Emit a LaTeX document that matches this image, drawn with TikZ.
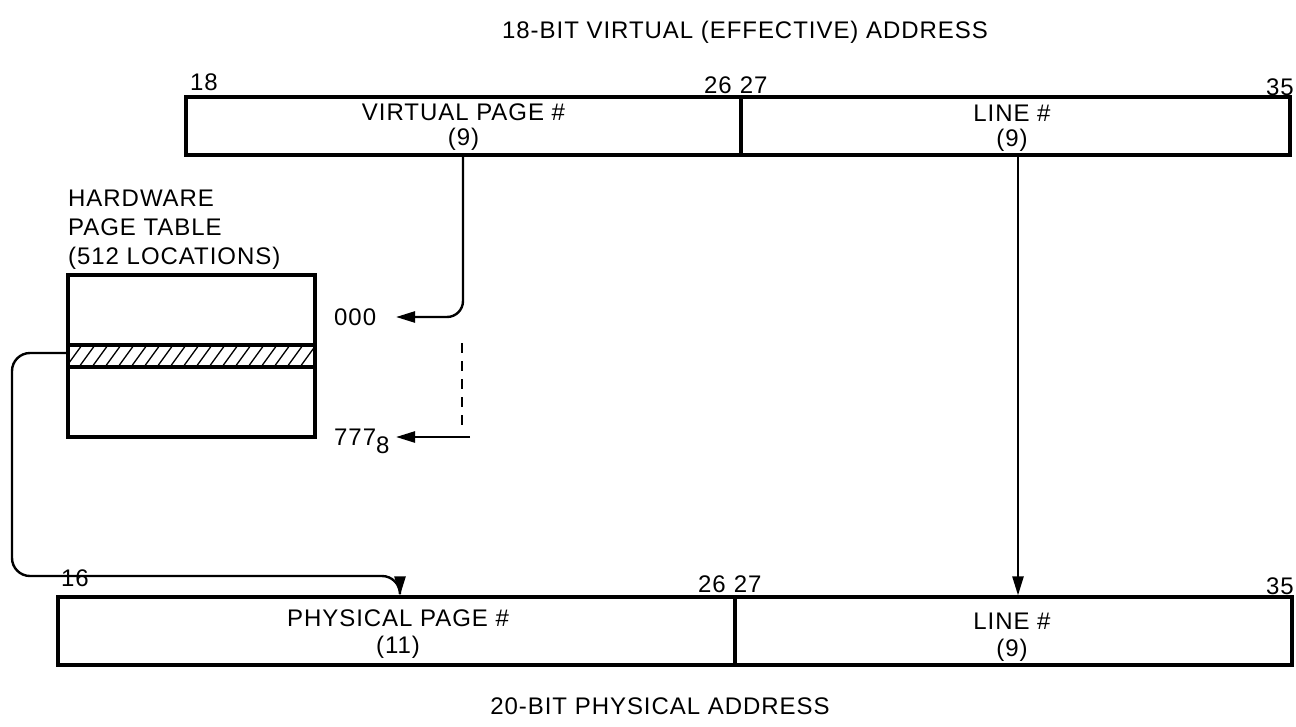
\documentclass[tikz,border=0pt]{standalone}
\usepackage{fontspec}
\setmainfont{Liberation Sans}[LetterSpace=4]
\usetikzlibrary{arrows.meta}
\begin{document}
\begin{tikzpicture}[x=1pt,y=-1pt,
  every node/.style={font=\fontsize{24}{25}\selectfont, inner sep=0pt},
  field/.style={draw, line width=3.2pt, rectangle},
  ftext/.style={align=center},
  conn/.style={line width=2.4pt},
  arr/.style={conn, -{Triangle[length=19pt,width=11pt]}},
  lbl/.style={anchor=base west}]
\useasboundingbox (0,0) rectangle (1296,726);

% top register
\node[field, minimum width=555pt, minimum height=58pt] (vpage) at (463.5,126) {};
\node[field, minimum width=549pt, minimum height=58pt] (vline) at (1015.5,126) {};
\node[ftext] (vpaget) at (463.5,127) {VIRTUAL PAGE \#\\[0pt](9)};
\node[ftext] (vlinet) at (1012,128) {LINE \#\\[0pt](9)};
\node (ttop) at (745,32) {18-BIT VIRTUAL (EFFECTIVE) ADDRESS};
\node[lbl] (b18) at (190,90) {18};
\node[lbl] (b2627a) at (704,93) {26\,\,27};
\node[lbl] (b35a) at (1266,95) {35};

% bottom register
\node[field, minimum width=677pt, minimum height=68pt] (ppage) at (396.5,631) {};
\node[field, minimum width=557pt, minimum height=68pt] (pline) at (1013.5,631) {};
\node[ftext] (ppaget) at (398,634) {PHYSICAL PAGE \#\\[2pt](11)};
\node[ftext] (plinet) at (1012,637) {LINE \#\\[2pt](9)};
\node (tbot) at (660,706) {20-BIT PHYSICAL ADDRESS};
\node[lbl] (b16) at (61,586) {16};
\node[lbl] (b2627b) at (698,592) {26\,\,27};
\node[lbl] (b35b) at (1266,594) {35};

% page table
\node[anchor=base west, align=left] (ptl) at (68,264) {HARDWARE\\[4pt]PAGE TABLE\\[4pt](512 LOCATIONS)};
\node[field, minimum width=247pt, minimum height=162pt] (table) at (191.5,356) {};
\begin{scope}
  \clip (68,345) rectangle (315,367);
  \foreach \x in {40,53,...,330} \draw[line width=1.3pt] (\x,367) -- (\x+16,345);
\end{scope}
\draw[line width=3.2pt] (68,345) -- (315,345) (68,367) -- (315,367);
\coordinate (strip) at (68,353);

\node[anchor=base west] (z000) at (334,325) {000};
\node[anchor=base west] (z777) at (334,445) {777\raisebox{-8pt}{8}};
\coordinate (a000) at (396,317);
\coordinate (a777) at (396,437);
\coordinate (s777) at (470,437);

% connectors
\draw[arr, rounded corners=16pt] (vpage.south -| 463,0) -- (463,317) -- (a000);
\draw[conn, dash pattern=on 10pt off 8pt] (462,343) -- (462,425);
\draw[arr] (s777) -- (a777);
\draw[arr, rounded corners=18pt] (strip) -- (12,353) -- (12,576) -- (400,576) -- (ppage.north -| 400,0);
\draw[arr] (vline.south -| 1018,0) -- (pline.north -| 1018,0);
\end{tikzpicture}
\end{document}
